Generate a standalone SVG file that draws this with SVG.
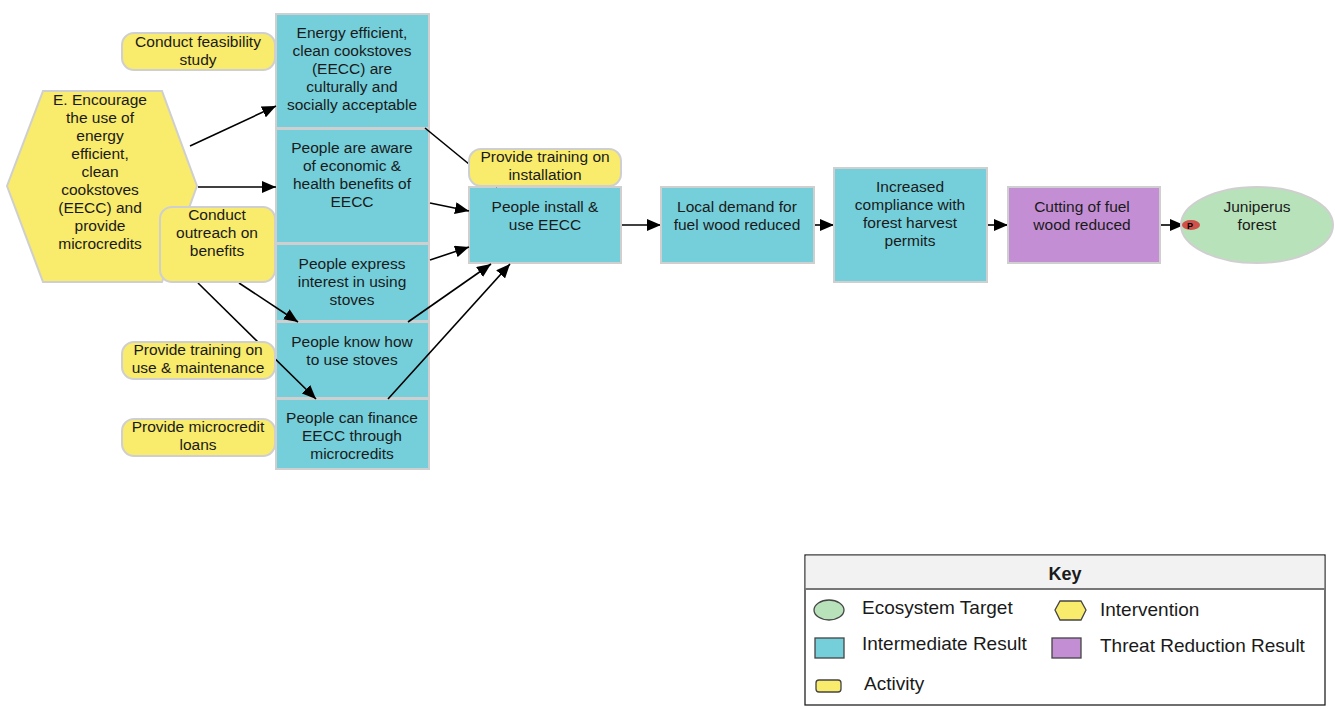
<svg xmlns="http://www.w3.org/2000/svg" width="1335" height="709" viewBox="0 0 1335 709">
<defs>
<marker id="arr" markerWidth="14" markerHeight="12" refX="14" refY="6" orient="auto" markerUnits="userSpaceOnUse">
<path d="M0,0 L14,6 L0,12 Z" fill="#000"/>
</marker>
<style>
text{font-family:"Liberation Sans",Arial,sans-serif;font-size:15.5px;fill:#1a1a1a;text-anchor:middle}
.ir{fill:#74CFDA;stroke:#cfcfcf;stroke-width:2}
.tr{fill:#C38ED4;stroke:#cfcfcf;stroke-width:2}
.act{fill:#F9EB6B;stroke:#cfcfcf;stroke-width:2}
.tgt{fill:#B8E3BA;stroke:#cfcfcf;stroke-width:2}
.con{stroke:#000;stroke-width:1.6;fill:none}
.lg text{font-size:19px;text-anchor:start}
.li{stroke:#444;stroke-width:1.3}
</style>
</defs>
<rect width="1335" height="709" fill="#fff"/>

<g id="intervention">
<polygon points="43,91 162,91 197,186 162,282 43,282 7,186" fill="#F9EB6B" stroke="#cfcfcf" stroke-width="2"/>
<text x="100" y="105">E. Encourage</text>
<text x="100" y="123">the use of</text>
<text x="100" y="141">energy</text>
<text x="100" y="159">efficient,</text>
<text x="100" y="177">clean</text>
<text x="100" y="195">cookstoves</text>
<text x="100" y="213">(EECC) and</text>
<text x="100" y="231">provide</text>
<text x="100" y="249">microcredits</text>
</g>

<g id="ir1">
<rect class="ir" x="276" y="14" width="153" height="114"/>
<text x="352" y="38">Energy efficient,</text>
<text x="352" y="56">clean cookstoves</text>
<text x="352" y="74">(EECC) are</text>
<text x="352" y="92">culturally and</text>
<text x="352" y="110">socially acceptable</text>
</g>
<g id="ir2">
<rect class="ir" x="276" y="129" width="153" height="114"/>
<text x="352" y="153">People are aware</text>
<text x="352" y="171">of economic &amp;</text>
<text x="352" y="189">health benefits of</text>
<text x="352" y="207">EECC</text>
</g>
<g id="ir3">
<rect class="ir" x="276" y="244" width="153" height="77"/>
<text x="352" y="269">People express</text>
<text x="352" y="287">interest in using</text>
<text x="352" y="305">stoves</text>
</g>
<g id="ir4">
<rect class="ir" x="276" y="322" width="153" height="76"/>
<text x="352" y="347">People know how</text>
<text x="352" y="365">to use stoves</text>
</g>
<g id="ir5">
<rect class="ir" x="276" y="399" width="153" height="70"/>
<text x="352" y="423">People can finance</text>
<text x="352" y="441">EECC through</text>
<text x="352" y="459">microcredits</text>
</g>
<g id="ir-install">
<rect class="ir" x="469" y="187" width="152" height="76"/>
<text x="545" y="212">People install &amp;</text>
<text x="545" y="230">use EECC</text>
</g>

<g id="connectors">
<line class="con" x1="190" y1="146" x2="276" y2="106" marker-end="url(#arr)"/>
<line class="con" x1="198" y1="187" x2="276" y2="187" marker-end="url(#arr)"/>
<line class="con" x1="425" y1="128" x2="497" y2="187"/>
<line class="con" x1="430" y1="203" x2="469" y2="211" marker-end="url(#arr)"/>
<line class="con" x1="430" y1="260" x2="469" y2="247" marker-end="url(#arr)"/>
<line class="con" x1="408" y1="322" x2="491" y2="264" marker-end="url(#arr)"/>
<line class="con" x1="388" y1="399" x2="510" y2="264" marker-end="url(#arr)"/>
<line class="con" x1="239" y1="283" x2="298" y2="322" marker-end="url(#arr)"/>
<line class="con" x1="198" y1="283" x2="316" y2="399" marker-end="url(#arr)"/>
<line class="con" x1="622" y1="225" x2="661" y2="225" marker-end="url(#arr)"/>
<line class="con" x1="814" y1="225" x2="834" y2="225" marker-end="url(#arr)"/>
<line class="con" x1="987" y1="225" x2="1008" y2="225" marker-end="url(#arr)"/>
<line class="con" x1="1160" y1="225" x2="1184" y2="225" marker-end="url(#arr)"/>
</g>

<g id="act-feasibility">
<rect class="act" x="122" y="33" width="153" height="37" rx="12"/>
<text x="198" y="47">Conduct feasibility</text>
<text x="198" y="65">study</text>
</g>
<g id="act-outreach">
<rect class="act" x="160" y="207" width="115" height="75" rx="12"/>
<text x="217" y="220">Conduct</text>
<text x="217" y="238">outreach on</text>
<text x="217" y="256">benefits</text>
</g>
<g id="act-training-use">
<rect class="act" x="122" y="342" width="153" height="37" rx="12"/>
<text x="198" y="355">Provide training on</text>
<text x="198" y="373">use &amp; maintenance</text>
</g>
<g id="act-microcredit">
<rect class="act" x="122" y="419" width="153" height="37" rx="12"/>
<text x="198" y="432">Provide microcredit</text>
<text x="198" y="450">loans</text>
</g>
<g id="act-install">
<rect class="act" x="469" y="149" width="152" height="37" rx="12"/>
<text x="545" y="162">Provide training on</text>
<text x="545" y="180">installation</text>
</g>

<g id="ir-demand">
<rect class="ir" x="661" y="187" width="153" height="76"/>
<text x="737" y="212">Local demand for</text>
<text x="737" y="230">fuel wood reduced</text>
</g>
<g id="ir-compliance">
<rect class="ir" x="834" y="168" width="153" height="114"/>
<text x="910" y="192">Increased</text>
<text x="910" y="210">compliance with</text>
<text x="910" y="228">forest harvest</text>
<text x="910" y="246">permits</text>
</g>
<g id="tr-cutting">
<rect class="tr" x="1008" y="187" width="152" height="76"/>
<text x="1082" y="212">Cutting of fuel</text>
<text x="1082" y="230">wood reduced</text>
</g>
<g id="target">
<ellipse class="tgt" cx="1257" cy="225" rx="76" ry="38"/>
<text x="1257" y="212">Juniperus</text>
<text x="1257" y="230">forest</text>
<ellipse cx="1191" cy="225" rx="9" ry="5" fill="#D0504A"/>
<text x="1190" y="228.5" style="font-size:9px;font-weight:bold;fill:#000">P</text>
</g>

<g id="legend" class="lg">
<rect x="805" y="555" width="520" height="150" fill="#fff" stroke="#222" stroke-width="1.3"/>
<rect x="805.7" y="555.7" width="518.6" height="33.3" fill="#f2f2f2"/>
<line x1="805" y1="589" x2="1325" y2="589" stroke="#777" stroke-width="2"/>
<text x="1065" y="580" style="font-weight:bold;font-size:18px;text-anchor:middle">Key</text>
<ellipse class="li" cx="829" cy="610" rx="15" ry="10" fill="#B8E3BA"/>
<text x="862" y="614">Ecosystem Target</text>
<polygon class="li" points="1060,601 1081,601 1086,610 1081,620 1060,620 1055,610" fill="#F9EB6B"/>
<text x="1100" y="616">Intervention</text>
<rect class="li" x="815" y="638" width="29" height="20" fill="#74CFDA"/>
<text x="862" y="650">Intermediate Result</text>
<rect class="li" x="1052" y="638" width="29" height="20" fill="#C38ED4"/>
<text x="1100" y="652">Threat Reduction Result</text>
<rect class="li" x="816" y="680" width="25" height="12" rx="3" fill="#F9EB6B"/>
<text x="864" y="690">Activity</text>
</g>
</svg>
